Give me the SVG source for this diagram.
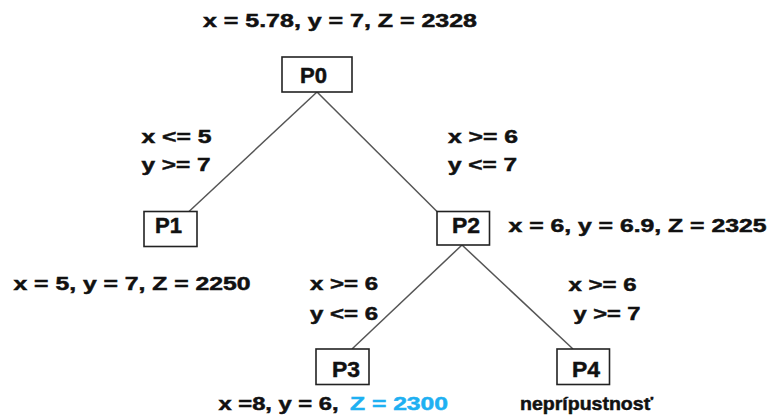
<svg xmlns="http://www.w3.org/2000/svg" width="771" height="417" viewBox="0 0 771 417">
<style>
text{font-family:"Liberation Sans",Arial,sans-serif;font-weight:bold;fill:#111;stroke:#111;stroke-width:0.5;}
.l{font-size:18.5px;}
.n{font-size:22px;}
.box{fill:#fff;stroke:#222;stroke-width:1.6;}
.edge{stroke:#555;stroke-width:1.5;fill:none;}
.blue{fill:#1eb0f2;stroke:#1eb0f2;}
</style>
<rect width="771" height="417" fill="#fff"/>
<g id="connectors">
<line class="edge" x1="317" y1="92" x2="189" y2="211.5"/>
<line class="edge" x1="317" y1="92" x2="437" y2="211.5"/>
<line class="edge" x1="462" y1="245" x2="352" y2="349"/>
<line class="edge" x1="462" y1="245" x2="573" y2="349"/>
</g>
<g id="P0">
<rect class="box" x="282" y="57" width="70" height="35"/>
<text class="n" x="300" y="83" textLength="27" lengthAdjust="spacingAndGlyphs">P0</text>
</g>
<g id="P1">
<rect class="box" x="144" y="211.5" width="53" height="35"/>
<text class="n" x="155" y="233" textLength="27" lengthAdjust="spacingAndGlyphs">P1</text>
</g>
<g id="P2">
<rect class="box" x="437" y="211.5" width="52.5" height="33.5"/>
<text class="n" x="452" y="233" textLength="28" lengthAdjust="spacingAndGlyphs">P2</text>
</g>
<g id="P3">
<rect class="box" x="316" y="349" width="53" height="35.5"/>
<text class="n" x="332" y="376.5" textLength="28" lengthAdjust="spacingAndGlyphs">P3</text>
</g>
<g id="P4">
<rect class="box" x="557" y="349" width="52.5" height="35.5"/>
<text class="n" x="572" y="376.5" textLength="28" lengthAdjust="spacingAndGlyphs">P4</text>
</g>
<g id="labels">
<text class="l" x="203" y="26.5" textLength="274" lengthAdjust="spacingAndGlyphs" style="font-size:19px">x = 5.78, y = 7, Z = 2328</text>
<text class="l" x="141.5" y="143" textLength="70" lengthAdjust="spacingAndGlyphs">x &lt;= 5</text>
<text class="l" x="141.5" y="171" textLength="69" lengthAdjust="spacingAndGlyphs">y &gt;= 7</text>
<text class="l" x="448" y="143" textLength="70" lengthAdjust="spacingAndGlyphs">x &gt;= 6</text>
<text class="l" x="448" y="171" textLength="69" lengthAdjust="spacingAndGlyphs">y &lt;= 7</text>
<text class="l" x="508.5" y="231.5" textLength="258" lengthAdjust="spacingAndGlyphs">x = 6, y = 6.9, Z = 2325</text>
<text class="l" x="13.5" y="290" textLength="237" lengthAdjust="spacingAndGlyphs">x = 5, y = 7, Z = 2250</text>
<text class="l" x="310" y="290" textLength="68" lengthAdjust="spacingAndGlyphs">x &gt;= 6</text>
<text class="l" x="310" y="320" textLength="68" lengthAdjust="spacingAndGlyphs">y &lt;= 6</text>
<text class="l" x="568.5" y="291" textLength="68" lengthAdjust="spacingAndGlyphs">x &gt;= 6</text>
<text class="l" x="573.5" y="320" textLength="67" lengthAdjust="spacingAndGlyphs">y &gt;= 7</text>
<text class="l" x="218.5" y="410" textLength="120" lengthAdjust="spacingAndGlyphs">x =8, y = 6,</text>
<text class="l blue" x="350" y="410" textLength="98" lengthAdjust="spacingAndGlyphs">Z = 2300</text>
<text class="l" x="520" y="410" textLength="133" lengthAdjust="spacingAndGlyphs">neprípustnosť</text>
</g>
</svg>
